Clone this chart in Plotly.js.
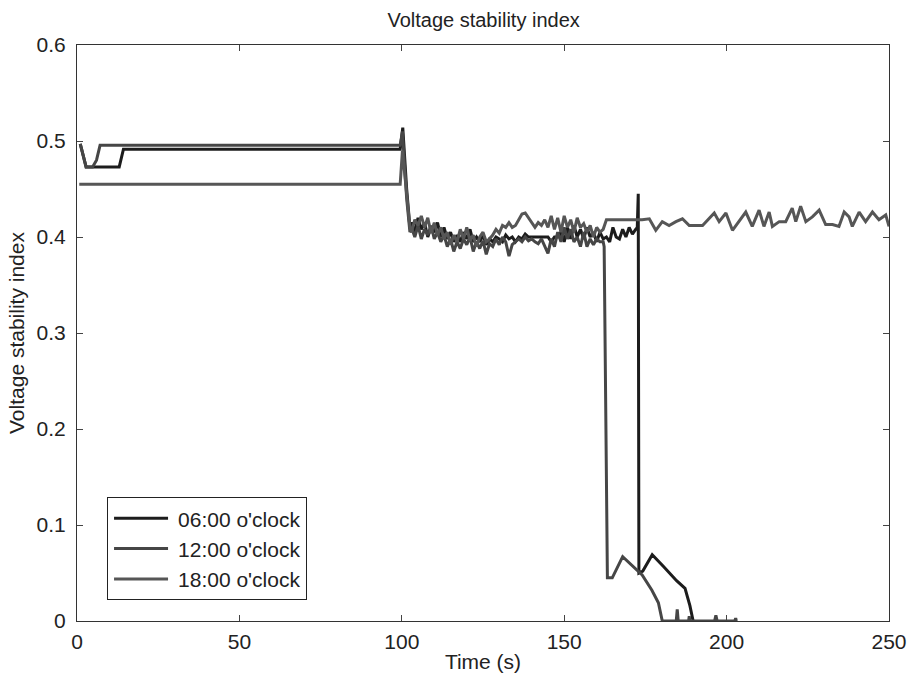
<!DOCTYPE html>
<html>
<head>
<meta charset="utf-8">
<script src="https://cdn.plot.ly/plotly-3.0.1.min.js"></script>
<style>html,body{margin:0;padding:0;background:#fff;}#chart{width:909px;height:680px;}</style>
</head>
<body>
<div id="chart"></div>
<script>
// Series names
const seriesNames = ["06:00 o'clock", "12:00 o'clock", "18:00 o'clock"];

// 06:00 o'clock
const t06 = [1, 2.8, 13, 14.3, 99.5, 100.3, 101.5, 102.5,
  103,104,105,106,107,108,109,110,111,112,113,114,115,116,117,118,119,120,121,122,123,124,125,126,127,128,129,130,
  131,132,133,134,135,136,137,138,139,140,141,142,143,144,145,146,147,148,149,150,151,152,153,154,155,156,157,158,159,160,
  161,162,163,164,165,166,167,168,169,170,171,172,
  172.5, 172.8, 173.0, 174.2, 177.1, 180.5, 184.6, 187.2, 188.7, 189.7];
const v06 = [0.497, 0.473, 0.473, 0.4915, 0.4915, 0.514, 0.45, 0.41,
  0.415,0.405,0.42,0.408,0.415,0.40,0.41,0.405,0.415,0.40,0.41,0.398,0.405,0.395,0.402,0.395,0.405,0.398,0.408,0.395,0.40,0.395,0.402,0.392,0.398,0.395,0.40,0.398,
  0.395,0.402,0.398,0.40,0.395,0.40,0.398,0.403,0.40,0.40,0.40,0.40,0.40,0.40,0.40,0.395,0.40,0.40,0.405,0.395,0.41,0.398,0.412,0.40,0.408,0.398,0.41,0.40,0.405,0.395,
  0.405,0.398,0.40,0.395,0.41,0.40,0.398,0.408,0.40,0.41,0.403,0.408,
  0.41, 0.445, 0.05, 0.052, 0.069, 0.057, 0.042, 0.034, 0.016, 0];

// 12:00 o'clock
const t12 = [1, 2.8, 4.8, 6, 7.1, 99.5, 100.2, 101.5, 102.5,
  103,104,105,106,107,108,109,110,111,112,113,114,115,116,117,118,119,120,121,122,123,124,125,126,127,128,129,130,
  131,132,133,134,135,136,137,138,139,140,141,142,143,144,145,146,147,148,149,150,151,152,153,154,155,156,157,158,159,160,
  161,162,
  162.3, 163.3, 164.8, 168, 174, 177, 179, 180.2,
  184.5, 184.8, 185.1, 188.3, 188.5, 188.7, 196.3, 196.7, 197.1, 202.5, 202.8, 203];
const v12 = [0.497, 0.473, 0.473, 0.48, 0.4955, 0.4955, 0.51, 0.44, 0.405,
  0.41,0.40,0.412,0.398,0.408,0.402,0.412,0.398,0.405,0.395,0.402,0.39,0.398,0.385,0.395,0.388,0.398,0.392,0.40,0.385,0.395,0.388,0.396,0.382,0.393,0.39,0.398,0.392,
  0.40,0.395,0.38,0.392,0.395,0.398,0.395,0.40,0.396,0.398,0.395,0.393,0.398,0.39,0.383,0.398,0.39,0.405,0.395,0.41,0.398,0.408,0.395,0.40,0.39,0.405,0.39,0.398,0.392,0.398,
  0.395,0.395,
  0.39, 0.045, 0.045, 0.067, 0.048, 0.032, 0.019, 0,
  0, 0.012, 0, 0, 0.005, 0, 0, 0.006, 0, 0, 0.003, 0];

// 18:00 o'clock
const t18 = [0.7, 99.5, 100.2, 101.5, 102.5,
  103,104,105,106,107,108,109,110,111,112,113,114,115,116,117,118,119,120,121,122,123,124,125,126,127,128,129,130,
  131,132,133,134,135,136,137,138,139,140,141,142,143,144,145,146,147,148,149,150,151,152,153,154,155,156,157,158,159,160,
  161,162,163,164,165,166,
  167, 170, 172, 174, 176.2, 178.2, 180.2, 182.3, 184.4, 186.4, 188.5, 192.6, 196.2, 197.7, 199.8, 201.8, 205.9, 207.9,
  210, 211.5, 213.1, 214.1, 216.2, 218.2, 220.2, 221.3, 222.8, 224.4, 226.4, 228.5, 230.5, 232.6, 234.6, 236.2, 237.7,
  238.7, 240.8, 242.8, 244.9, 246.9, 249, 250];
const v18 = [0.455, 0.455, 0.49, 0.44, 0.41,
  0.405,0.418,0.412,0.422,0.41,0.42,0.404,0.415,0.402,0.41,0.398,0.405,0.392,0.402,0.395,0.408,0.398,0.41,0.396,0.402,0.39,0.40,0.405,0.395,0.398,0.402,0.408,0.404,
  0.412,0.41,0.415,0.41,0.412,0.418,0.424,0.425,0.42,0.416,0.41,0.415,0.412,0.418,0.41,0.422,0.408,0.42,0.405,0.422,0.41,0.418,0.405,0.42,0.41,0.414,0.405,0.412,0.40,0.41,
  0.405,0.408,0.418,0.418,0.418,0.418,
  0.418, 0.418, 0.418, 0.418, 0.419, 0.407, 0.416, 0.412, 0.416, 0.419, 0.412, 0.412, 0.425, 0.416, 0.425, 0.407, 0.426, 0.411,
  0.428, 0.411, 0.426, 0.411, 0.416, 0.416, 0.43, 0.416, 0.432, 0.416, 0.421, 0.428, 0.413, 0.413, 0.411, 0.426, 0.421,
  0.411, 0.426, 0.416, 0.426, 0.418, 0.423, 0.411];

const xTicks = [0, 50, 100, 150, 200, 250];
const yTicks = [0, 0.1, 0.2, 0.3, 0.4, 0.5, 0.6];

const colors = ['#1c1c1c', '#464646', '#565656'];
const xs = [t06, t12, t18];
const ys = [v06, v12, v18];

const traces = seriesNames.map((n, i) => ({
  x: xs[i], y: ys[i], name: n, type: 'scatter', mode: 'lines',
  line: {color: colors[i], width: 3}
}));

const fontFam = 'Liberation Sans, Arial, sans-serif';
const layout = {
  width: 909, height: 680,
  margin: {l: 77, r: 20, t: 45, b: 59},
  paper_bgcolor: '#fff', plot_bgcolor: '#fff',
  font: {family: fontFam, color: '#222', size: 21},
  title: {text: 'Voltage stability index', x: 0.532, xanchor: 'center', y: 0.97, yanchor: 'middle',
          font: {family: fontFam, size: 20, color: '#222'}},
  xaxis: {range: [0, 250], tickvals: xTicks, ticktext: xTicks.map(String), ticks: 'inside', ticklen: 6,
          showline: true, linecolor: '#333', linewidth: 1, mirror: 'ticks', showgrid: false, zeroline: false,
          ticklabelstandoff: 2,
          tickfont: {size: 21}, title: {text: 'Time (s)', font: {size: 21}, standoff: 2}},
  yaxis: {range: [0, 0.6], tickvals: yTicks, ticktext: yTicks.map(String), ticks: 'inside', ticklen: 6,
          showline: true, linecolor: '#333', linewidth: 1, mirror: 'ticks', showgrid: false, zeroline: false,
          ticklabelstandoff: 6,
          tickfont: {size: 21}, title: {text: 'Voltage stability index', font: {size: 21}, standoff: 6}},
  showlegend: true,
  legend: {x: 0.037, y: 0.215, xanchor: 'left', yanchor: 'top', bgcolor: '#fff', bordercolor: '#222', borderwidth: 1,
           font: {size: 21, color: '#222'}, itemwidth: 60, tracegroupgap: 0}
};

Plotly.newPlot('chart', traces, layout, {displayModeBar: false, staticPlot: true}).then(gd => {
  // lengthen legend line samples to match the reference
  document.querySelectorAll('.legend .legendlines path').forEach(p => p.setAttribute('d', 'M6,0h54'));
});
</script>
</body>
</html>
